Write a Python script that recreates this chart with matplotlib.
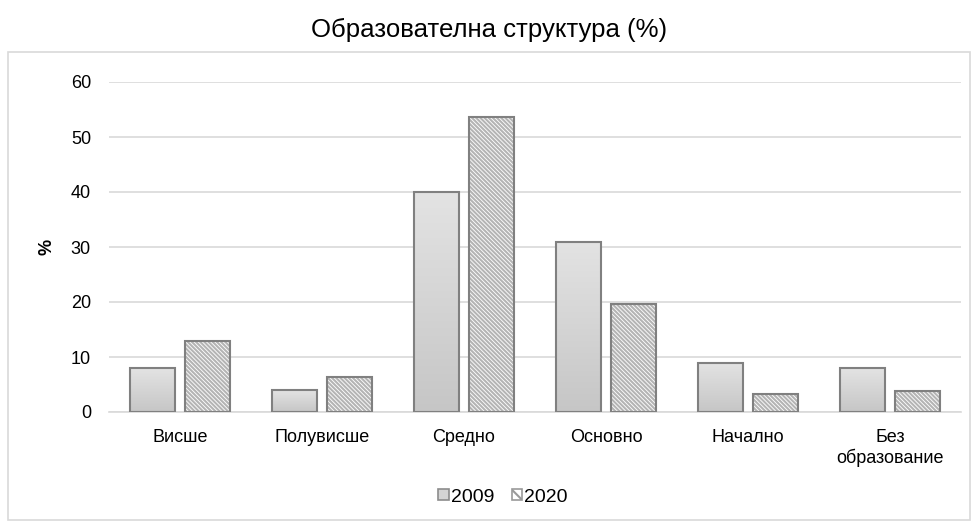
import numpy as np
import matplotlib
matplotlib.use("Agg")
import matplotlib.pyplot as plt
from matplotlib.patches import Rectangle

plt.rcParams['font.family'] = ['Liberation Sans', 'DejaVu Sans']
plt.rcParams['hatch.linewidth'] = 1.5

categories = ["Висше", "Полувисше", "Средно", "Основно", "Начално", "Без\nобразование"]
values_2009 = [8, 4, 40, 31, 9, 8]
values_2020 = [13, 6.3, 53.6, 19.6, 3.3, 3.8]
years = ["2009", "2020"]

fig = plt.figure(figsize=(9.79, 5.28), dpi=100)
ax = fig.add_axes([109 / 979, 1 - 412 / 528, (961 - 109) / 979, (412 - 82) / 528])

x = np.arange(len(categories))
w = 0.317
gap = 0.065
pos1 = x - (w + gap) / 2
pos2 = x + (w + gap) / 2

bars1 = ax.bar(pos1, values_2009, w, color='none', edgecolor='#808080',
               linewidth=1.5, zorder=3, label=years[0])
# hatched fill first (light stripes), then the outline on top
ax.bar(pos2, values_2020, w, color='white', edgecolor='#b4b4b4',
       hatch='\\\\\\\\\\\\\\\\', linewidth=0, zorder=3)
ax.bar(pos2, values_2020, w, color='none', edgecolor='#808080',
       linewidth=1.5, zorder=4)

# vertical gradient fill for the 2009 bars
grad = np.linspace(0, 1, 256).reshape(-1, 1)
cmap = matplotlib.colors.LinearSegmentedColormap.from_list('g', ['#c6c6c6', '#e3e3e3'])
for b in bars1:
    x0, y0 = b.get_x(), b.get_y()
    bw, bh = b.get_width(), b.get_height()
    im = ax.imshow(grad, extent=[x0, x0 + bw, y0, y0 + bh], origin='lower',
                   cmap=cmap, aspect='auto', zorder=2)
    im.set_clip_path(b)

ax.set_xlim(-0.5, len(categories) - 0.5)
ax.set_ylim(0, 60)
ax.set_yticks(range(0, 61, 10))
ax.set_xticks(x)
ax.set_xticklabels(categories, fontsize=13)
ax.tick_params(axis='both', length=0, labelsize=13, colors='black')
ax.tick_params(axis='y', pad=13)
ax.tick_params(axis='x', pad=12)
ax.yaxis.grid(True, color='#d9d9d9', linewidth=1.2, zorder=0)
ax.set_axisbelow(True)
for s in ['top', 'right', 'left']:
    ax.spines[s].set_visible(False)
ax.spines['bottom'].set_color('#d9d9d9')
ax.spines['bottom'].set_linewidth(1.2)

ax.set_ylabel('%', fontsize=13, fontweight='bold')
ax.yaxis.set_label_coords((55 - 109) / 852, 0.5)

fig.suptitle('Образователна структура (%)', fontsize=18.5, y=1 - 30 / 528, va='center')

h1 = Rectangle((0, 0), 1, 1, facecolor='#d4d4d4', edgecolor='#8c8c8c', linewidth=1.2)
h2 = Rectangle((0, 0), 1, 1, facecolor='white', edgecolor='#9a9a9a', hatch='\\\\\\',
               linewidth=1.2)
leg = ax.legend([h1, h2], years, loc='center', bbox_to_anchor=((503 - 109) / 852, (412 - 497) / 330),
                ncol=2, frameon=False, fontsize=14, handlelength=0.55, handleheight=0.55,
                handletextpad=0.1, columnspacing=0.9)

# outer chart border
fig.patches.append(Rectangle((8 / 979, 1 - 520 / 528), (970 - 8) / 979, (520 - 52) / 528,
                             transform=fig.transFigure, fill=False,
                             edgecolor='#d9d9d9', linewidth=1.2))

fig.savefig('out.png', dpi=100)
